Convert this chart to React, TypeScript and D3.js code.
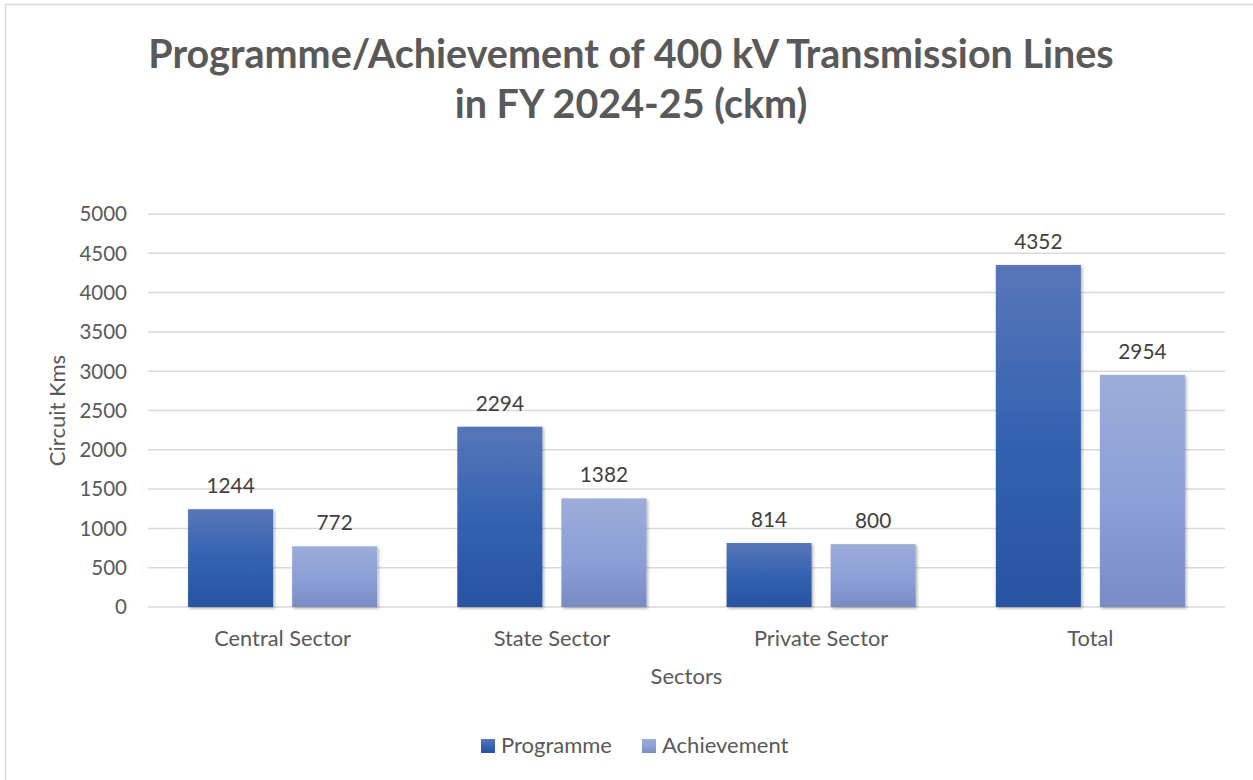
import { useMemo } from 'react'
import * as d3 from 'd3'

const CATEGORIES = ['Central Sector', 'State Sector', 'Private Sector', 'Total']
const SERIES = ['Programme', 'Achievement']
const PROGRAMME = [1244, 2294, 814, 4352]
const ACHIEVEMENT = [772, 1382, 800, 2954]
const Y_TICKS = [0, 500, 1000, 1500, 2000, 2500, 3000, 3500, 4000, 4500, 5000]

const WIDTH = 1253
const HEIGHT = 780
const PLOT = { left: 148, right: 1225, top: 214, bottom: 607 }
const FONT = 'Lato, "Open Sans", sans-serif'

// gradient stops per series (top, middle, bottom)
const GRADIENTS: Record<string, string[]> = {
  Programme: ['#5876b8', '#3161b0', '#2b53a2'],
  Achievement: ['#9cadd9', '#8c9fd6', '#7a8bc3']
}

export default function App() {
  const rows = useMemo(
    () => CATEGORIES.map((c, i) => ({ category: c, Programme: PROGRAMME[i], Achievement: ACHIEVEMENT[i] })),
    []
  )

  const x0 = d3.scaleBand().domain(CATEGORIES).range([PLOT.left, PLOT.right])
  const x1 = d3.scaleBand()
    .domain(SERIES)
    .range([0, x0.bandwidth()])
    .paddingInner(0.183)
    .paddingOuter(0.385)
  const y = d3.scaleLinear().domain([0, 5000]).range([PLOT.bottom, PLOT.top])

  return (
    <svg
      width={WIDTH}
      height={HEIGHT}
      style={{ position: 'absolute', left: 0, top: 0, background: '#fff' }}
      fontFamily={FONT}
    >
      <defs>
        {SERIES.map(s => (
          <linearGradient key={s} id={`grad-${s}`} x1="0" y1="0" x2="0" y2="1">
            <stop offset="0%" stopColor={GRADIENTS[s][0]} />
            <stop offset="55%" stopColor={GRADIENTS[s][1]} />
            <stop offset="100%" stopColor={GRADIENTS[s][2]} />
          </linearGradient>
        ))}
        <filter id="shadow" x="-10%" y="-10%" width="125%" height="125%">
          <feDropShadow dx="1.5" dy="1.5" stdDeviation="1.8" floodColor="#000" floodOpacity="0.3" />
        </filter>
      </defs>

      {/* chart border */}
      <rect x={5.5} y={4.5} width={WIDTH + 10} height={HEIGHT + 10} fill="none" stroke="#d9d9d9" strokeWidth={1.5} />

      {/* Title */}
      <text x={631} textAnchor="middle" fill="#595959" fontSize={39.5} fontWeight={700}>
        <tspan x={631} y={68}>Programme/Achievement of 400 kV Transmission Lines</tspan>
        <tspan x={631} y={118}>in FY 2024-25 (ckm)</tspan>
      </text>

      {/* Grid lines */}
      {Y_TICKS.map(t => (
        <line key={t} x1={PLOT.left} x2={PLOT.right} y1={y(t)} y2={y(t)} stroke="#d9d9d9" strokeWidth={1.5} />
      ))}

      {/* Y axis labels */}
      {Y_TICKS.map(t => (
        <text key={t} x={127} y={y(t)} dy="0.36em" textAnchor="end" fill="#595959" fontSize={20.5}>
          {t}
        </text>
      ))}

      <text
        transform={`translate(65, ${(PLOT.top + PLOT.bottom) / 2}) rotate(-90)`}
        textAnchor="middle"
        fill="#595959"
        fontSize={22}
      >
        Circuit Kms
      </text>

      {/* Bars */}
      {rows.map(row => (
        <g key={row.category} transform={`translate(${x0(row.category)}, 0)`}>
          {SERIES.map(s => {
            const v = (row as any)[s] as number
            const bx = x1(s)!
            return (
              <g key={s}>
                <rect
                  x={bx}
                  y={y(v)}
                  width={x1.bandwidth()}
                  height={y(0) - y(v)}
                  fill={`url(#grad-${s})`}
                  filter="url(#shadow)"
                />
                <text
                  x={bx + x1.bandwidth() / 2}
                  y={y(v) - 16}
                  textAnchor="middle"
                  fill="#404040"
                  fontSize={20.8}
                >
                  {v}
                </text>
              </g>
            )
          })}
        </g>
      ))}

      {/* X axis labels */}
      {CATEGORIES.map(c => (
        <text key={c} x={x0(c)! + x0.bandwidth() / 2} y={646} textAnchor="middle" fill="#595959" fontSize={21.8}>
          {c}
        </text>
      ))}

      <text x={(PLOT.left + PLOT.right) / 2} y={684} textAnchor="middle" fill="#595959" fontSize={22}>
        Sectors
      </text>

      {/* Legend */}
      {SERIES.map((s, i) => {
        const lx = i === 0 ? 481 : 642
        return (
          <g key={s}>
            <rect x={lx} y={739} width={14} height={14} fill={`url(#grad-${s})`} />
            <text x={lx + 20} y={753} fill="#595959" fontSize={22}>
              {s}
            </text>
          </g>
        )
      })}
    </svg>
  )
}
